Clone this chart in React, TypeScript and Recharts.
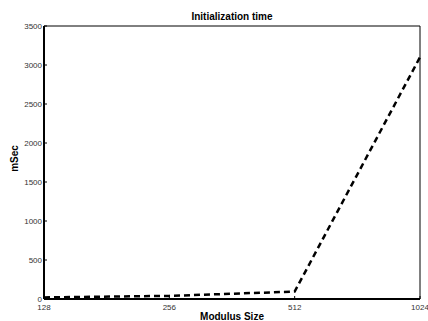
import React from "react";
import { Label, Line, LineChart, XAxis, YAxis } from "recharts";

const sizes = ["128", "256", "512", "1024"];
const initTimes = [20, 40, 95, 3100];
const yTicks = [0, 500, 1000, 1500, 2000, 2500, 3000, 3500];

const data = sizes.map((size, i) => ({ size, ms: initTimes[i] }));

const font = "'Liberation Sans', Arial, Helvetica, sans-serif";
const tickStyle = { fontSize: 8, fill: "#333", fontFamily: font };

const YTitle = (props: any) => {
  const vb = props.viewBox || {};
  const cx = vb.x + 14;
  const cy = vb.y + vb.height / 2 - 4;
  return (
    <text
      x={cx}
      y={cy}
      transform={`rotate(-90, ${cx}, ${cy})`}
      textAnchor="middle"
      dominantBaseline="central"
      fontFamily={font}
      fontSize={10}
      fontWeight="bold"
      fill="#000">
      mSec
    </text>
  );
};

export default function App() {
  return (
    <div style={{ position: "fixed", left: 0, top: 0, background: "#fff" }}>
      <LineChart
        width={428}
        height={321}
        data={data}
        margin={{ top: 25, right: 7, bottom: 0, left: 0 }}>
        <XAxis
          dataKey="size"
          xAxisId="bottom"
          height={22}
          axisLine={{ stroke: "#000", strokeWidth: 2 }}
          tickLine={{ stroke: "#000" }}
          tickSize={-3}
          tickMargin={8}
          tick={tickStyle}
          interval={0}>
          <Label
            value="Modulus Size"
            position="insideBottom"
            offset={1}
            style={{ fontFamily: font, fontSize: 10, fontWeight: "bold", fill: "#000" }}
          />
        </XAxis>
        <XAxis
          dataKey="size"
          xAxisId="top"
          orientation="top"
          height={1}
          axisLine={{ stroke: "#000", strokeWidth: 1 }}
          tickLine={{ stroke: "#000" }}
          tickSize={-3}
          tick={false}
          interval={0}>
          <Label
            value="Initialization time"
            position="top"
            offset={5}
            style={{ fontFamily: font, fontSize: 10, fontWeight: "bold", fill: "#000" }}
          />
        </XAxis>
        <YAxis
          yAxisId="left"
          width={44}
          type="number"
          domain={[0, 3500]}
          ticks={yTicks}
          interval={0}
          axisLine={{ stroke: "#000", strokeWidth: 2 }}
          tickLine={{ stroke: "#000" }}
          tickSize={-3}
          tickMargin={5}
          tick={tickStyle}
          label={<YTitle />}
        />
        <YAxis
          yAxisId="right"
          orientation="right"
          width={1}
          type="number"
          domain={[0, 3500]}
          ticks={yTicks}
          interval={0}
          axisLine={{ stroke: "#000", strokeWidth: 1 }}
          tickLine={{ stroke: "#000" }}
          tickSize={-3}
          tick={false}
        />
        <Line
          xAxisId="top"
          yAxisId="right"
          type="linear"
          dataKey="ms"
          stroke="none"
          dot={false}
          activeDot={false}
          isAnimationActive={false}
        />
        <Line
          xAxisId="bottom"
          yAxisId="left"
          type="linear"
          dataKey="ms"
          stroke="#000"
          strokeWidth={2.5}
          strokeDasharray="6 4"
          dot={false}
          isAnimationActive={false}
        />
      </LineChart>
    </div>
  );
}
